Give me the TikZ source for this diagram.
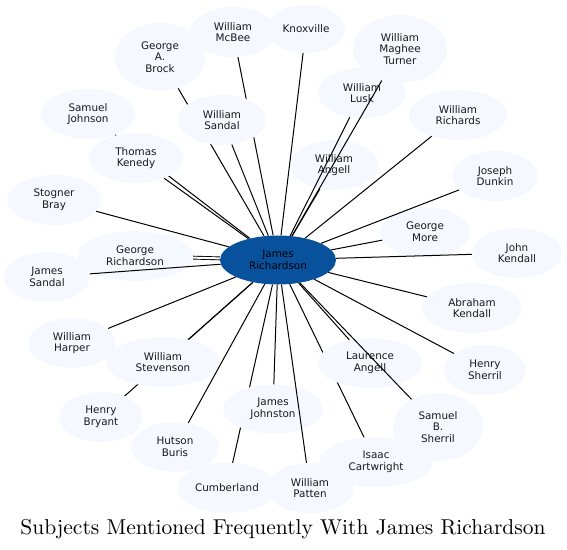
\documentclass[tikz,border=0pt]{standalone}
\usepackage{fontspec}
\newfontfamily\nodefont{DejaVu Sans}
\newfontfamily\titlefont{lmroman10-regular.otf}
\usetikzlibrary{shapes.geometric}
\pgfdeclarelayer{back}
\pgfdeclarelayer{front}
\pgfsetlayers{back,main,front}
\definecolor{lightfill}{HTML}{F5F9FF}
\definecolor{darkfill}{HTML}{08519C}
\begin{document}
\begin{tikzpicture}[x=1pt,y=-1pt,
  subj/.style={ellipse, fill=lightfill, draw=none, inner sep=0pt, align=center,
    font=\nodefont\fontsize{10.4}{11.7}\selectfont, text=black!90},
  hub/.style={subj, fill=darkfill, text=black},
  link/.style={line width=1pt, black}]
\useasboundingbox (0,0) rectangle (567,549);
% nodes
\node[subj, minimum width=90pt, minimum height=68pt] (brock) at (160,57) {George\\A.\\Brock};
\node[subj, minimum width=86pt, minimum height=50pt] (mcbee) at (233,32) {William\\McBee};
\node[subj, minimum width=78pt, minimum height=48pt] (knox) at (306,29) {Knoxville};
\node[subj, minimum width=94pt, minimum height=68pt] (turner) at (400,49) {William\\Maghee\\Turner};
\node[subj, minimum width=88pt, minimum height=50pt] (lusk) at (362,93) {William\\Lusk};
\node[subj, minimum width=98pt, minimum height=50pt] (wrich) at (458,115) {William\\Richards};
\node[subj, minimum width=88pt, minimum height=50pt] (wangell) at (334,165) {William\\Angell};
\node[subj, minimum width=86pt, minimum height=50pt] (dunkin) at (495,176) {Joseph\\Dunkin};
\node[subj, minimum width=90pt, minimum height=50pt] (gmore) at (425,232) {George\\More};
\node[subj, minimum width=90pt, minimum height=50pt] (jkendall) at (517,253) {John\\Kendall};
\node[subj, minimum width=100pt, minimum height=50pt] (akendall) at (472,308) {Abraham\\Kendall};
\node[subj, minimum width=82pt, minimum height=50pt] (hsherril) at (485,370) {Henry\\Sherril};
\node[subj, minimum width=90pt, minimum height=68pt] (sbsherril) at (438,427) {Samuel\\B.\\Sherril};
\node[subj, minimum width=114pt, minimum height=50pt] (cartwright) at (376,462) {Isaac\\Cartwright};
\node[subj, minimum width=104pt, minimum height=50pt] (langell) at (370,363) {Laurence\\Angell};
\node[subj, minimum width=88pt, minimum height=50pt] (patten) at (310,488) {William\\Patten};
\node[subj, minimum width=100pt, minimum height=50pt] (cumberland) at (227,488) {Cumberland};
\node[subj, minimum width=100pt, minimum height=49pt] (johnston) at (273,409) {James\\Johnston};
\node[subj, minimum width=88pt, minimum height=50pt] (buris) at (175,447) {Hutson\\Buris};
\node[subj, minimum width=84pt, minimum height=50pt] (bryant) at (101,417) {Henry\\Bryant};
\node[subj, minimum width=88pt, minimum height=50pt] (harper) at (72,343) {William\\Harper};
\node[subj, minimum width=114pt, minimum height=50pt] (stevenson) at (163,362) {William\\Stevenson};
\node[subj, minimum width=86pt, minimum height=50pt] (jsandal) at (47,277) {James\\Sandal};
\node[subj, minimum width=116pt, minimum height=50pt] (grich) at (135,256) {George\\Richardson};
\node[subj, minimum width=94pt, minimum height=50pt] (bray) at (54,200) {Stogner\\Bray};
\node[subj, minimum width=94pt, minimum height=50pt] (sjohnson) at (88,114) {Samuel\\Johnson};
\node[subj, minimum width=94pt, minimum height=50pt] (kenedy) at (136,158) {Thomas\\Kenedy};
\node[subj, minimum width=88pt, minimum height=50pt] (wsandal) at (222,120) {William\\Sandal};
\node[hub, minimum width=116pt, minimum height=49pt] (center) at (278,260) {James\\Richardson};
% edges hidden behind some nodes
\begin{pgfonlayer}{back}
\draw[link] (center) -- (mcbee);
\draw[link] (center) -- (brock);
\draw[link] (center) -- (sjohnson);
\draw[link] (center) -- (cartwright);
\draw[link] (center) -- (bryant);
\draw[link] (center) -- (cumberland);
\end{pgfonlayer}
% edges drawn over nodes
\begin{pgfonlayer}{front}
\draw[link] (center) -- (knox);
\draw[link] (center) -- (turner);
\draw[link] (center) -- (lusk);
\draw[link] (center) -- (wrich);
\draw[link] (center) -- (wangell);
\draw[link] (center) -- (dunkin);
\draw[link] (center) -- (gmore);
\draw[link] (center) -- (jkendall);
\draw[link] (center) -- (akendall);
\draw[link] (center) -- (hsherril);
\draw[link] (center) -- (langell);
\draw[link] (center) -- (sbsherril);
\draw[link] (center) -- (patten);
\draw[link] (center) -- (johnston);
\draw[link] (center) -- (buris);
\draw[link] (center) -- (stevenson);
\draw[link] (center) -- (harper);
\draw[link] (center) -- (jsandal);
\draw[link, double=white, double distance=2pt, line width=0.9pt] (center) -- (grich);
\draw[link] (center) -- (bray);
\draw[link] (center) -- (kenedy);
\draw[link] (center) -- (wsandal);
\end{pgfonlayer}
% title
\node[anchor=base, inner sep=0pt, font=\titlefont\fontsize{21.5}{24}\selectfont] (title) at (283,534) {Subjects Mentioned Frequently With James Richardson};
\end{tikzpicture}
\end{document}
